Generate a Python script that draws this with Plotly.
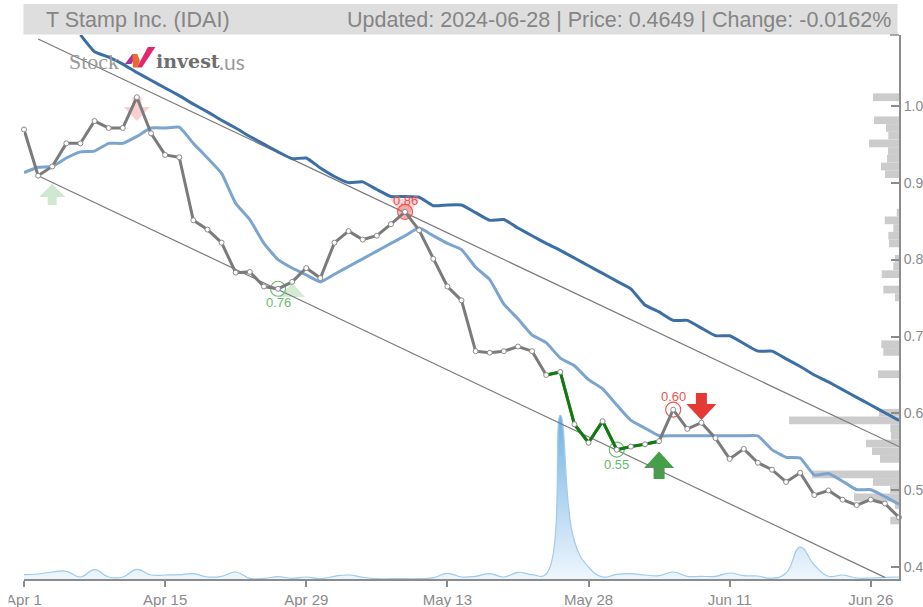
import plotly.graph_objects as go

DATES = ["Apr 1","Apr 2","Apr 3","Apr 4","Apr 5","Apr 8","Apr 9","Apr 10","Apr 11","Apr 12",
         "Apr 15","Apr 16","Apr 17","Apr 18","Apr 19","Apr 22","Apr 23","Apr 24","Apr 25","Apr 26",
         "Apr 29","Apr 30","May 1","May 2","May 3","May 6","May 7","May 8","May 9","May 10",
         "May 13","May 14","May 15","May 16","May 17","May 20","May 21","May 22","May 23","May 24",
         "May 28","May 29","May 30","May 31","Jun 3","Jun 4","Jun 5","Jun 6","Jun 7","Jun 10",
         "Jun 11","Jun 12","Jun 13","Jun 14","Jun 17","Jun 18","Jun 20","Jun 21","Jun 24","Jun 25",
         "Jun 26","Jun 27","Jun 28"]
TICK_LABELS = ["Apr 1","Apr 15","Apr 29","May 13","May 28","Jun 11","Jun 26"]
PRICE_TICKS = [0.4,0.5,0.6,0.7,0.8,0.9,1.0]

PRICE = [0.969,0.909,0.921,0.951,0.951,0.980,0.971,0.971,1.011,0.964,
         0.936,0.933,0.851,0.839,0.822,0.783,0.784,0.765,0.762,0.771,
         0.789,0.776,0.822,0.837,0.826,0.831,0.846,0.862,0.838,0.801,
         0.765,0.747,0.681,0.679,0.681,0.687,0.681,0.650,0.654,0.586,
         0.562,0.590,0.553,0.557,0.560,0.564,0.605,0.580,0.588,0.568,
         0.541,0.554,0.536,0.527,0.511,0.523,0.494,0.500,0.488,0.481,
         0.488,0.483,0.4649]
MA_SHORT = [0.913,0.920,0.921,0.932,0.940,0.941,0.951,0.951,0.960,0.971,
            0.971,0.972,0.951,0.932,0.912,0.873,0.852,0.821,0.800,0.789,
            0.780,0.771,0.781,0.791,0.801,0.811,0.821,0.831,0.841,0.831,
            0.821,0.813,0.790,0.774,0.742,0.723,0.702,0.692,0.672,0.662,
            0.644,0.632,0.611,0.591,0.581,0.571,0.571,0.571,0.571,0.571,
            0.571,0.571,0.571,0.553,0.543,0.542,0.520,0.522,0.512,0.501,
            0.501,0.492,0.482]
MA_LONG = [None,None,None,None,1.092,1.070,1.063,1.054,1.043,1.033,
           1.023,1.013,1.002,0.992,0.981,0.971,0.960,0.950,0.940,0.931,
           0.932,0.919,0.908,0.900,0.901,0.891,0.882,0.882,0.881,0.870,
           0.871,0.871,0.861,0.851,0.852,0.841,0.831,0.821,0.812,0.802,
           0.792,0.782,0.772,0.762,0.741,0.732,0.721,0.721,0.711,0.701,
           0.701,0.691,0.681,0.681,0.671,0.661,0.650,0.641,0.631,0.621,
           0.611,0.601,0.591]
VOLUME = [4.3,5,7,7.7,2,9.3,2,2,9.7,4,
          4,4.3,5.3,2,2.7,7,0.7,0.7,2.3,0.7,
          2,0.3,2.7,4,1.7,0.3,0.3,0.3,0.3,1.3,
          5.7,2,2.7,5.3,2,6.7,4.3,5,164,38,
          12,2,4.7,5.3,4,3.3,7,2.7,2.7,2.7,
          6,3.3,3,0.7,6,32,14,2.7,4,1,
          1,1.7,2]
CHANNEL_UP_X = [1,62]
CHANNEL_UP = [1.0866,0.557]
CHANNEL_LOW_X = [1,61]
CHANNEL_LOW = [0.909,0.387]
PV_PRICE = [1.011,0.981,0.971,0.961,0.951,0.941,0.931,0.921,0.911,
            0.861,0.851,0.841,0.831,0.821,0.801,0.791,0.781,0.761,0.751,
            0.690,0.680,0.651,0.601,0.591,0.581,0.571,0.561,0.551,0.541,
            0.521,0.511,0.501,0.491,0.481,0.461]
PV_VOLUME = [26,25,13,10.7,30,11,12,18,14,
             2.3,14.3,5.7,10.7,10,4,5.7,17.3,15.7,4,
             17.7,15.7,21,20,110,8.7,8,33,27,19,
             87,26,9,45,4,8.7]
GREEN_IDX = [37,38,39,40,41,42]
GREEN_DASH_IDX = [42,43,44,45]
SIGNAL_IDX = [18,42,46,27]
SIGNAL_LABEL = ["0.76","0.55","0.60","0.86"]
TITLE_LEFT = "T Stamp Inc. (IDAI)"
TITLE_RIGHT = "Updated: 2024-06-28 | Price: 0.4649 | Change: -0.0162%"

L, R, T, B = 23.5, 899.5, 35.0, 579.3
W, H = 923, 607
XS = list(range(len(DATES)))
def px(x): return (x - L) / (R - L)
def py(y): return (B - y) / (B - T)

GREY = "#8c8c8c"
fig = go.Figure()

fig.add_trace(go.Scatter(x=XS, y=VOLUME, mode="lines", yaxis="y",
    line=dict(color="#9fcbec", width=1.2, shape="spline", smoothing=1.3),
    fill="tozeroy",
    fillgradient=dict(type="vertical",
        colorscale=[[0, "rgba(236,245,252,0.9)"], [1, "rgba(105,172,224,0.95)"]]),
    cliponaxis=False, hoverinfo="skip", showlegend=False))

fig.add_trace(go.Bar(y=PV_PRICE, x=[-v * 62 / (R - L) for v in PV_VOLUME], base=62,
    orientation="h", width=0.01, yaxis="y2",
    marker=dict(color="#cccccc", line=dict(width=0)), hoverinfo="skip", showlegend=False))

for xs, ys in ((CHANNEL_UP_X, CHANNEL_UP), (CHANNEL_LOW_X, CHANNEL_LOW)):
    fig.add_trace(go.Scatter(x=xs, y=ys, mode="lines", yaxis="y2",
        line=dict(color="#7a7a7a", width=1.2), hoverinfo="skip", showlegend=False))

fig.add_trace(go.Scatter(x=XS, y=MA_LONG, mode="lines", yaxis="y2",
    line=dict(color="#3c6fa5", width=3, shape="spline", smoothing=0.4), hoverinfo="skip", showlegend=False))
fig.add_trace(go.Scatter(x=XS, y=MA_SHORT, mode="lines", yaxis="y2",
    line=dict(color="#7ba4cf", width=3, shape="spline", smoothing=0.4), hoverinfo="skip", showlegend=False))

SIG_LINE = ["#66bb6a", "#66bb6a", "#ef5350", "#ef5350"]
SIG_FILL = ["rgba(0,0,0,0)", "rgba(0,0,0,0)", "rgba(0,0,0,0)", "rgba(239,83,80,0.35)"]
SIG_SHIFT = [-14, -15, 13, 11]
fig.add_trace(go.Scatter(x=SIGNAL_IDX, y=[PRICE[i] for i in SIGNAL_IDX], mode="markers", yaxis="y2",
    marker=dict(size=15, color=SIG_FILL, line=dict(color=SIG_LINE, width=1.1)),
    hoverinfo="skip", showlegend=False))

fig.add_trace(go.Scatter(x=XS, y=PRICE, mode="lines", yaxis="y2",
    line=dict(color="#7b7b7b", width=3), hoverinfo="skip", showlegend=False))
fig.add_trace(go.Scatter(x=GREEN_IDX, y=[PRICE[i] for i in GREEN_IDX], mode="lines", yaxis="y2",
    line=dict(color="#0b7d0b", width=3), hoverinfo="skip", showlegend=False))
fig.add_trace(go.Scatter(x=GREEN_DASH_IDX, y=[PRICE[i] for i in GREEN_DASH_IDX], mode="lines", yaxis="y2",
    line=dict(color="#0b7d0b", width=3, dash="12px,4px"), hoverinfo="skip", showlegend=False))
fig.add_trace(go.Scatter(x=XS, y=PRICE, mode="markers", yaxis="y2",
    marker=dict(size=5, color="white", line=dict(color="#8a8a8a", width=1)),
    cliponaxis=False, hoverinfo="skip", showlegend=False))

def arrow(idx, val, tip, direction, color, hw=15, sw=5.5, head=16, total=27, stem=True):
    # tip = pixel offset of the arrow tip from its point (positive = upward);
    # direction = +1 for an arrow pointing up, -1 for one pointing down
    d = -direction
    a, b = tip + d * head, tip + d * total
    if stem:
        p = (f"M0,{tip} L{hw},{a} L{sw},{a} L{sw},{b} L{-sw},{b} L{-sw},{a} L{-hw},{a} Z")
    else:
        p = f"M0,{tip} L{hw},{a} L{-hw},{a} Z"
    return dict(type="path", path=p, xref="x", yref="y2", xsizemode="pixel", ysizemode="pixel",
                xanchor=idx, yanchor=val, fillcolor=color, line=dict(width=0), layer="below")

shapes = [
    arrow(45, PRICE[45], -10.4, 1, "#43a047", head=16.5, total=27.5),
    arrow(48, PRICE[48], 2.7, -1, "#e53935"),
    arrow(2, PRICE[2], -17.5, 1, "#cfe8d0", hw=13, sw=4.5, head=13, total=21),
    arrow(8, PRICE[8], -23.7, -1, "#f9cfd0", hw=13, sw=4.5, head=14, total=24),
    arrow(19, PRICE[19], -1, 1, "#d3ead4", hw=13, head=14, stem=False),
    arrow(27, PRICE[27], -7, -1, "#fbd5d6", hw=15, head=20, stem=False),
]
shapes += [
    dict(type="rect", xref="paper", yref="paper", x0=px(23), x1=px(898), y0=py(34.5), y1=py(4),
         fillcolor="#dedede", line=dict(width=0), layer="above"),
    dict(type="line", xref="paper", yref="paper", x0=px(890.5), x1=px(899.5), y0=1, y1=1,
         line=dict(color=GREY, width=1.5), layer="above"),
    dict(type="rect", xref="paper", yref="paper", x0=px(0), x1=px(8), y0=py(607), y1=py(583),
         fillcolor="white", line=dict(width=0), layer="above"),
]
LOGO = [
    ("M0,0 L7.5,10 L12.5,10 L6.5,0 Z", "#a8329a"),
    ("M7.5,10 L12.5,10 L15,3 L12,-3.5 L8,-3.5 Z", "#ee6a2c"),
    ("M23,17 L30.5,17 L17,-3.5 L12,-3.5 Z", "#e5266e"),
]
for p, c in LOGO:
    shapes.append(dict(type="path", path=p, xref="paper", yref="paper",
        xsizemode="pixel", ysizemode="pixel", xanchor=px(124.5), yanchor=py(64),
        fillcolor=c, line=dict(width=0), layer="above"))

def note(x, y, text, size, color, anchor="left", family="Liberation Sans"):
    return dict(xref="paper", yref="paper", x=px(x), y=py(y), text=text, showarrow=False,
                xanchor=anchor, yanchor="middle", borderpad=0,
                font=dict(family=family, size=size, color=color))

annotations = [
    note(45, 19.5, TITLE_LEFT, 21.5, "#858585"),
    note(892, 19.5, TITLE_RIGHT, 21.5, "#858585", "right"),
    note(68, 61.5, "Stock", 22, "#9a9a9a", family="Liberation Serif"),
    note(155, 61.5, "<b>invest</b>", 19, "#6e6e6e", family="DejaVu Serif"),
    note(218, 61.5, ".us", 21, "#9a9a9a", family="Lato"),
]
for i, label, color, shift in zip(SIGNAL_IDX, SIGNAL_LABEL, SIG_LINE, SIG_SHIFT):
    annotations.append(dict(x=i, y=PRICE[i], xref="x", yref="y2", text=label, showarrow=False,
        yshift=shift, font=dict(family="Liberation Sans", size=13, color=color)))

fig.update_layout(
    width=W, height=H, margin=dict(l=L, r=W - R, t=T, b=H - B, pad=0, autoexpand=False),
    paper_bgcolor="white", plot_bgcolor="white", showlegend=False,
    barmode="overlay",
    font=dict(family="Liberation Sans", color=GREY),
    shapes=shapes, annotations=annotations,
    xaxis=dict(range=[0, 62], tickmode="array", tickvals=[DATES.index(t) for t in TICK_LABELS],
        ticktext=TICK_LABELS, ticks="outside", ticklen=6, tickwidth=1.5, tickcolor=GREY,
        showline=True, linecolor=GREY, linewidth=2, showgrid=False, zeroline=False, automargin=False,
        tickfont=dict(size=15, color="#8a8a8a"), fixedrange=True),
    yaxis=dict(range=[0, B - T], visible=False, fixedrange=True, automargin=False),
    yaxis2=dict(range=[1 - (B - 105.7) / 770, 1 + (105.7 - T) / 770], overlaying="y", side="right",
        anchor="x", tickmode="array", tickvals=PRICE_TICKS, tickformat=".1f",
        ticks="inside", ticklen=8, tickwidth=1.5, tickcolor=GREY, automargin=False,
        showline=True, linecolor=GREY, linewidth=2, showgrid=False, zeroline=False,
        tickfont=dict(size=14, color="#8a8a8a"), fixedrange=True),
)
fig.write_html("out.html", config=dict(displayModeBar=False),
               post_script="document.body.style.margin='0';")
